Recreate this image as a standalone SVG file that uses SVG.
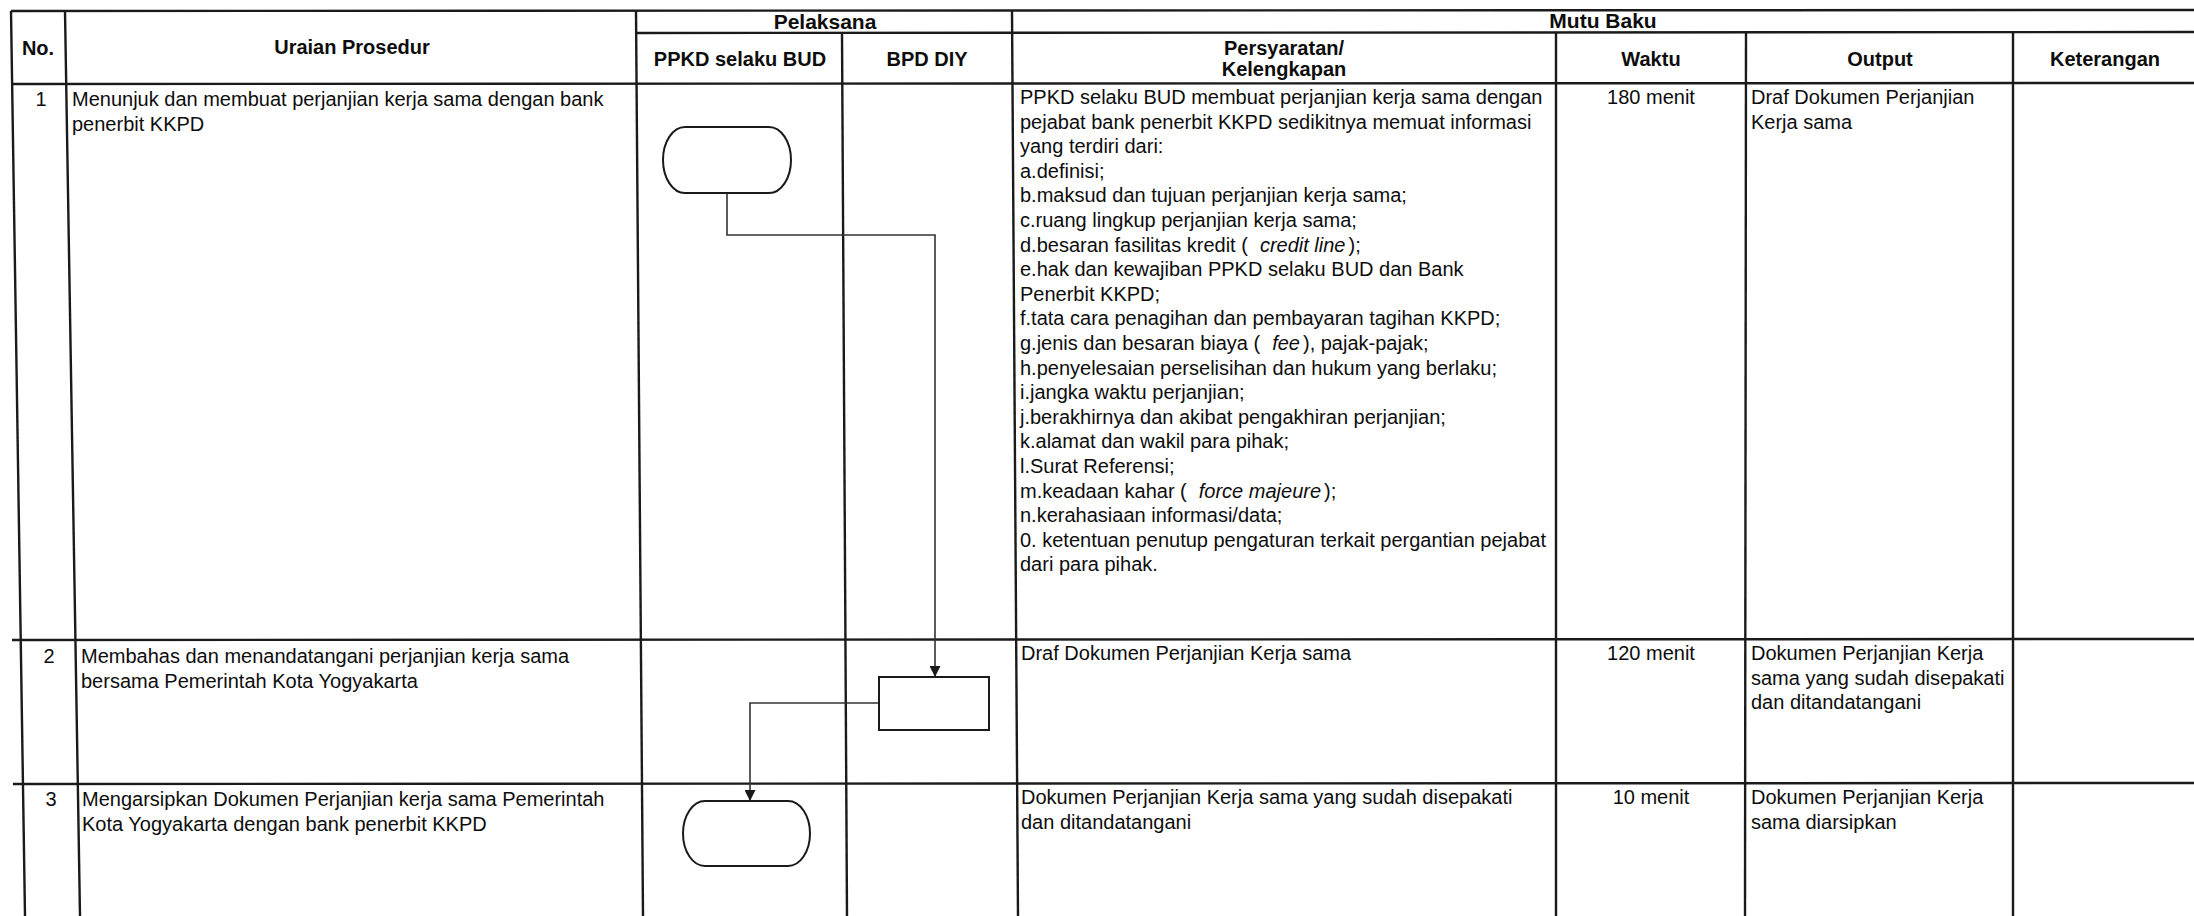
<svg xmlns="http://www.w3.org/2000/svg" width="2194" height="916" viewBox="0 0 2194 916">
<style>
.t{font-family:"Liberation Sans",Arial,sans-serif;font-size:20px;fill:#0d0d0d}
.b{font-weight:bold}
.m{text-anchor:middle}
.i{font-style:italic}
.big{font-size:21px}
.g{stroke:#1a1a1a;stroke-width:2.4;fill:none}
.s{fill:#fff;stroke:#1a1a1a;stroke-width:2}
.k{fill:none;stroke:#333;stroke-width:1.6}
</style>
<defs>
<marker id="ah" viewBox="0 0 12 12" refX="12" refY="6" markerWidth="11" markerHeight="11" markerUnits="userSpaceOnUse" orient="auto">
<path d="M0,0 L12,6 L0,12 z" fill="#1a1a1a"/>
</marker>
</defs>
<rect width="2194" height="916" fill="#fff"/>

<g id="grid" class="g">
<line x1="11" y1="11" x2="2194" y2="10"/>
<line x1="637" y1="33" x2="2194" y2="32"/>
<line x1="11" y1="84" x2="2194" y2="83"/>
<line x1="12" y1="640" x2="2194" y2="639"/>
<line x1="13" y1="784" x2="2194" y2="783"/>
<line x1="11" y1="11" x2="25" y2="916"/>
<line x1="65" y1="11" x2="80" y2="916"/>
<line x1="636" y1="11" x2="643" y2="916"/>
<line x1="842" y1="33" x2="847" y2="916"/>
<line x1="1012" y1="11" x2="1018" y2="916"/>
<line x1="1556" y1="33" x2="1556" y2="916"/>
<line x1="1746" y1="33" x2="1745" y2="916"/>
<line x1="2013" y1="33" x2="2013" y2="916"/>
</g>

<g id="header" class="t b m">
<text x="38" y="55">No.</text>
<text x="352" y="54">Uraian Prosedur</text>
<text class="big" x="825" y="29">Pelaksana</text>
<text class="big" x="1603" y="28">Mutu Baku</text>
<text x="740" y="66">PPKD selaku BUD</text>
<text x="927" y="66">BPD DIY</text>
<text x="1284" y="55">Persyaratan/</text>
<text x="1284" y="76">Kelengkapan</text>
<text x="1651" y="66">Waktu</text>
<text x="1880" y="66">Output</text>
<text x="2105" y="66">Keterangan</text>
</g>

<g id="row1" class="t">
<text class="m" x="41" y="106">1</text>
<text x="72" y="106">Menunjuk dan membuat perjanjian kerja sama dengan bank</text>
<text x="72" y="130.6">penerbit KKPD</text>
<text x="1020" y="104">PPKD selaku BUD membuat perjanjian kerja sama dengan</text>
<text x="1020" y="128.6">pejabat bank penerbit KKPD sedikitnya memuat informasi</text>
<text x="1020" y="153.2">yang terdiri dari:</text>
<text x="1020" y="177.8">a.definisi;</text>
<text x="1020" y="202.4">b.maksud dan tujuan perjanjian kerja sama;</text>
<text x="1020" y="227">c.ruang lingkup perjanjian kerja sama;</text>
<text x="1020" y="251.6">d.besaran fasilitas kredit (<tspan class="i" dx="12">credit line</tspan><tspan dx="3">);</tspan></text>
<text x="1020" y="276.2">e.hak dan kewajiban PPKD selaku BUD dan Bank</text>
<text x="1020" y="300.8">Penerbit KKPD;</text>
<text x="1020" y="325.4">f.tata cara penagihan dan pembayaran tagihan KKPD;</text>
<text x="1020" y="350">g.jenis dan besaran biaya (<tspan class="i" dx="12">fee</tspan><tspan dx="3">), pajak-pajak;</tspan></text>
<text x="1020" y="374.6">h.penyelesaian perselisihan dan hukum yang berlaku;</text>
<text x="1020" y="399.2">i.jangka waktu perjanjian;</text>
<text x="1020" y="423.8">j.berakhirnya dan akibat pengakhiran perjanjian;</text>
<text x="1020" y="448.4">k.alamat dan wakil para pihak;</text>
<text x="1020" y="473">l.Surat Referensi;</text>
<text x="1020" y="497.6">m.keadaan kahar (<tspan class="i" dx="12">force majeure</tspan><tspan dx="3">);</tspan></text>
<text x="1020" y="522.2">n.kerahasiaan informasi/data;</text>
<text x="1020" y="546.8">0. ketentuan penutup pengaturan terkait pergantian pejabat</text>
<text x="1020" y="571.4">dari para pihak.</text>
<text class="m" x="1651" y="104">180 menit</text>
<text x="1751" y="104">Draf Dokumen Perjanjian</text>
<text x="1751" y="128.6">Kerja sama</text>
</g>

<g id="row2" class="t">
<text class="m" x="49" y="663">2</text>
<text x="81" y="663">Membahas dan menandatangani perjanjian kerja sama</text>
<text x="81" y="687.6">bersama Pemerintah Kota Yogyakarta</text>
<text x="1021" y="660">Draf Dokumen Perjanjian Kerja sama</text>
<text class="m" x="1651" y="660">120 menit</text>
<text x="1751" y="660">Dokumen Perjanjian Kerja</text>
<text x="1751" y="684.6">sama yang sudah disepakati</text>
<text x="1751" y="709.2">dan ditandatangani</text>
</g>

<g id="row3" class="t">
<text class="m" x="51" y="806">3</text>
<text x="82" y="806">Mengarsipkan Dokumen Perjanjian kerja sama Pemerintah</text>
<text x="82" y="830.6">Kota Yogyakarta dengan bank penerbit KKPD</text>
<text x="1021" y="804">Dokumen Perjanjian Kerja sama yang sudah disepakati</text>
<text x="1021" y="828.6">dan ditandatangani</text>
<text class="m" x="1651" y="804">10 menit</text>
<text x="1751" y="804">Dokumen Perjanjian Kerja</text>
<text x="1751" y="828.6">sama diarsipkan</text>
</g>

<g id="connectors" class="k">
<path d="M727,193 V235 H935 V677" marker-end="url(#ah)"/>
<path d="M879,703 H750 V801" marker-end="url(#ah)"/>
</g>

<g id="node1">
<rect class="s" x="663" y="127" width="128" height="66" rx="22" ry="33"/>
</g>
<g id="node2">
<rect class="s" x="879" y="677" width="110" height="53"/>
</g>
<g id="node3">
<rect class="s" x="683" y="801" width="127" height="65" rx="22" ry="32.5"/>
</g>
</svg>
